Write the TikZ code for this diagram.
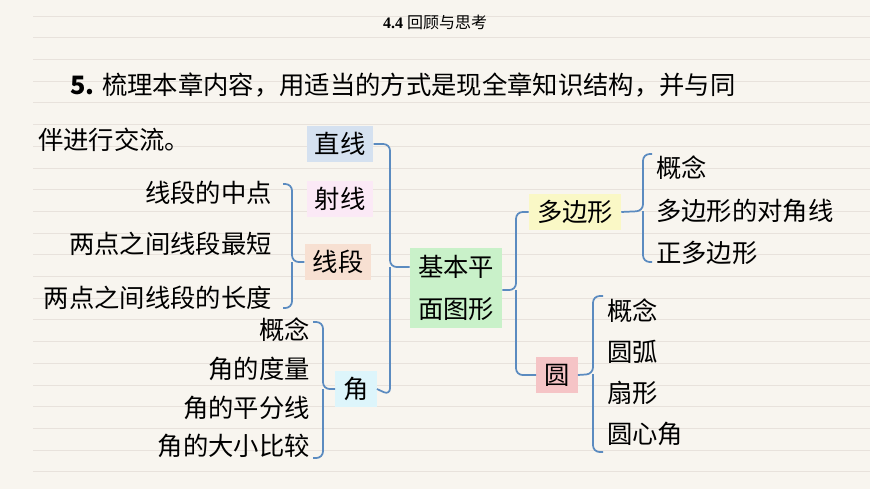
\documentclass[tikz,border=0pt]{standalone}
\usepackage{fontspec}
\setmainfont{Liberation Serif}
\newfontfamily\cjk{Noto Sans CJK SC}
\definecolor{bg}{HTML}{F8F5EF}
\definecolor{rule}{HTML}{E8E2DC}
\definecolor{brc}{HTML}{5B8BC0}
\definecolor{cZX}{HTML}{D5E1F0}
\definecolor{cSX}{HTML}{FBE9F6}
\definecolor{cXD}{HTML}{F7E0D2}
\definecolor{cJ}{HTML}{DDF5FB}
\definecolor{cJB}{HTML}{C9F1C9}
\definecolor{cDB}{HTML}{FAF8C6}
\definecolor{cY}{HTML}{F5C4C6}
\tikzset{
  big/.style={font=\cjk\fontsize{19}{23}\selectfont, inner sep=0pt},
  lab/.style={big, text=black},
  box/.style={big, inner xsep=6pt, inner ysep=5pt},
  br/.style={draw=brc, line width=1.3pt, rounded corners=5pt},
}
\begin{document}
\begin{tikzpicture}[x=0.75pt,y=-0.75pt]
\useasboundingbox (0,0) rectangle (870,489);
\fill[bg] (0,0) rectangle (870,489);
\foreach \k in {0,...,21} \draw[rule, line width=0.6pt] (33,{16+21.7*\k}) -- (870,{16+21.7*\k});
% title
\node[font=\fontsize{12}{14}\selectfont] (title) at (435,22) {\textbf{4.4} {\cjk 回顾与思考}};
\node[big, anchor=west] (l1) at (70,85) {\textbf{5.} 梳理本章内容，用适当的方式是现全章知识结构，并与同};
\node[big, anchor=west] (l2) at (38,140) {伴进行交流。};
% boxes
\node[box, fill=cZX] (zx) at (340,144) {直线};
\node[box, fill=cSX] (sx) at (340,199) {射线};
\node[box, fill=cXD] (xd) at (338,262) {线段};
\node[box, fill=cJ] (jiao) at (356,389) {角};
\node[box, fill=cJB, align=center, font=\cjk\fontsize{19}{32}\selectfont] (jb) at (456,288) {基本平\\面图形};
\node[box, fill=cDB] (dbx) at (575,212) {多边形};
\node[box, fill=cY] (yuan) at (557,375) {圆};
% left labels for segment
\node[lab, anchor=east] (a1) at (272,193) {线段的中点};
\node[lab, anchor=east] (a2) at (272,244) {两点之间线段最短};
\node[lab, anchor=east] (a3) at (272,298) {两点之间线段的长度};
% angle labels
\node[lab, anchor=east] (b1) at (310,330) {概念};
\node[lab, anchor=east] (b2) at (310,369) {角的度量};
\node[lab, anchor=east] (b3) at (310,408) {角的平分线};
\node[lab, anchor=east] (b4) at (310,446) {角的大小比较};
% polygon labels
\node[lab, anchor=west] (c1) at (656,168) {概念};
\node[lab, anchor=west] (c2) at (656,211) {多边形的对角线};
\node[lab, anchor=west] (c3) at (656,253) {正多边形};
% circle labels
\node[lab, anchor=west] (d1) at (607,311) {概念};
\node[lab, anchor=west] (d2) at (607,352) {圆弧};
\node[lab, anchor=west] (d3) at (607,393) {扇形};
\node[lab, anchor=west] (d4) at (607,434) {圆心角};
% brace: segment
\coordinate (s1) at (283,184); \coordinate (s2) at (283,308);
\draw[br] (s1) -- (292,184) -- (292,262) -- (xd.west);
\draw[br] (s2) -- (292,308) -- (292,262);
% brace: angle
\coordinate (t1) at (313,322); \coordinate (t2) at (313,458);
\draw[br] (t1) -- (323,322) -- (323,389) -- (jiao.west);
\draw[br] (t2) -- (323,458) -- (323,389);
% big brace
\draw[br] (zx.east) -- (390,144) -- (390,267) -- (jb.west |- 0,267);
\draw[br] (jiao.east) -- (390,395) -- (390,267);
% right main brace
\draw[br] (dbx.west) -- (516,212) -- (516,290) -- (jb.east |- 0,290);
\draw[br] (yuan.west) -- (516,375) -- (516,290);
% polygon brace
\coordinate (p1) at (652,154); \coordinate (p2) at (652,262);
\draw[br] (p1) -- (643,154) -- (643,211) -- (dbx.east);
\draw[br] (p2) -- (643,262) -- (643,211);
% circle brace
\coordinate (q1) at (603,296); \coordinate (q2) at (603,452);
\draw[br] (q1) -- (593,296) -- (593,374) -- (yuan.east);
\draw[br] (q2) -- (593,452) -- (593,374);
\end{tikzpicture}
\end{document}
